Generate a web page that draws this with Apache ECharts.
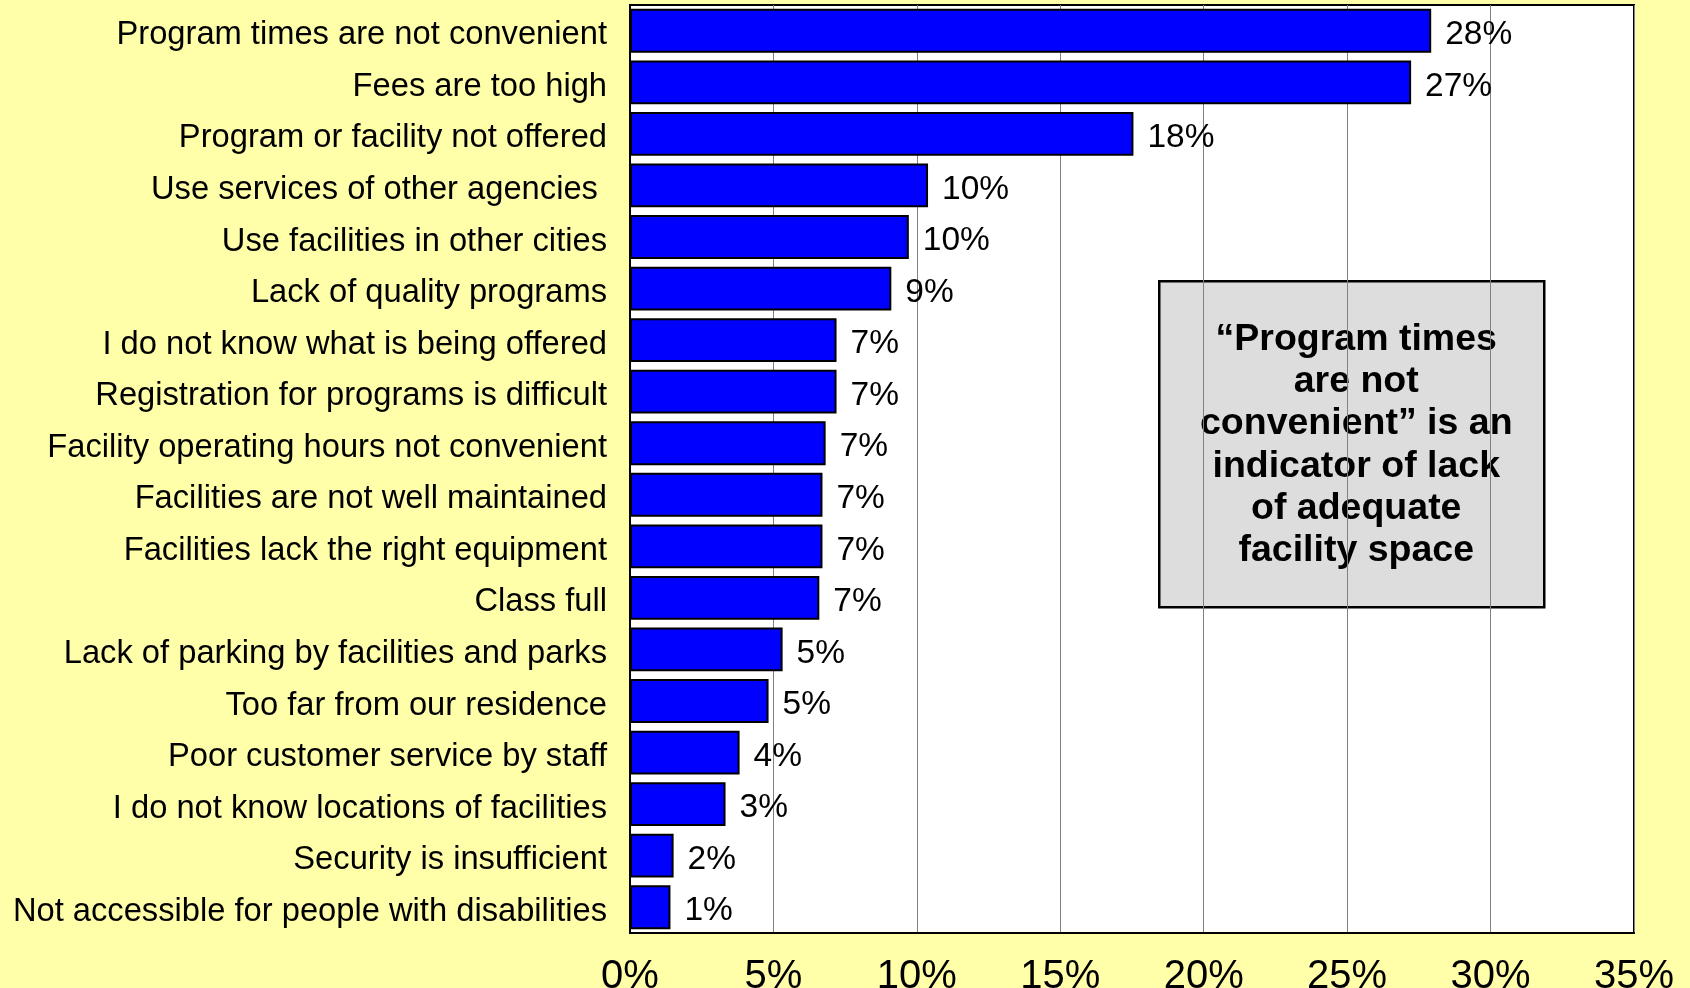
<!DOCTYPE html>
<html>
<head>
<meta charset="utf-8">
<script src="https://cdn.jsdelivr.net/npm/echarts@6/dist/echarts.min.js"></script>
<style>
html,body{margin:0;padding:0;background:#ffffaa;}
#chart{width:1690px;height:988px;}
</style>
</head>
<body>
<div id="chart"></div>
<script>
const categories = [
  "Program times are not convenient",
  "Fees are too high",
  "Program or facility not offered",
  "Use services of other agencies ",
  "Use facilities in other cities",
  "Lack of quality programs",
  "I do not know what is being offered",
  "Registration for programs is difficult",
  "Facility operating hours not convenient",
  "Facilities are not well maintained",
  "Facilities lack the right equipment",
  "Class full",
  "Lack of parking by facilities and parks",
  "Too far from our residence",
  "Poor customer service by staff",
  "I do not know locations of facilities",
  "Security is insufficient",
  "Not accessible for people with disabilities"
];
const values = [27.93, 27.23, 17.55, 10.39, 9.72, 9.11, 7.2, 7.2, 6.82, 6.71, 6.71, 6.6, 5.32, 4.83, 3.82, 3.33, 1.52, 1.41];
const xTicks = [0, 5, 10, 15, 20, 25, 30, 35];
const noteText = "\u201cProgram times\nare not\nconvenient\u201d is an\nindicator of lack\nof adequate\nfacility space";

const FONT = "'Liberation Sans', Arial, sans-serif";
const chart = echarts.init(document.getElementById('chart'), null, {renderer: 'canvas'});
chart.setOption({
  backgroundColor: '#ffffaa',
  animation: false,
  grid: {
    left: 630, right: 56, top: 5, bottom: 55,
    containLabel: false, outerBoundsMode: 'none',
    show: true, backgroundColor: '#ffffff', borderColor: '#000000', borderWidth: 2
  },
  xAxis: {
    type: 'value',
    min: xTicks[0], max: xTicks[xTicks.length - 1], interval: 5,
    axisLine: {show: true, lineStyle: {color: '#000', width: 2}},
    axisTick: {show: false},
    splitLine: {show: true, lineStyle: {color: '#808080', width: 1}},
    axisLabel: {
      formatter: '{value}%', fontSize: 40, color: '#000', fontFamily: FONT, margin: 24
    }
  },
  yAxis: {
    type: 'category',
    data: categories,
    inverse: true,
    axisLine: {show: true, lineStyle: {color: '#000', width: 2}},
    axisTick: {show: false},
    axisLabel: {
      fontSize: 32.7, color: '#000', fontFamily: FONT, margin: 23,
      formatter: v => '{a|' + v + '}',
      rich: {a: {fontSize: 32.7, color: '#000', fontFamily: FONT, padding: [9, 0, 0, 0]}}
    }
  },
  series: [{
    type: 'bar',
    data: values,
    barCategoryGap: '15%',
    itemStyle: {color: '#0000ff', borderColor: '#000', borderWidth: 2},
    label: {
      show: true, position: 'right', distance: 14, offset: [0, 4],
      fontSize: 33.5, color: '#000', fontFamily: FONT,
      formatter: p => Math.round(p.value) + '%'
    }
  }],
  graphic: [{
    type: 'group', left: 1158, top: 280,
    children: [{
      type: 'rect',
      shape: {x: 0, y: 0, width: 385, height: 326},
      style: {fill: '#dddddd', stroke: '#000', lineWidth: 2.5}
    }, {
      type: 'text',
      x: 197, y: 164,
      style: {
        text: noteText, fontSize: 37.5, fontWeight: 'bold', fontFamily: FONT,
        fill: '#000', align: 'center', verticalAlign: 'middle', lineHeight: 42.3
      }
    }]
  }]
});
</script>
</body>
</html>
